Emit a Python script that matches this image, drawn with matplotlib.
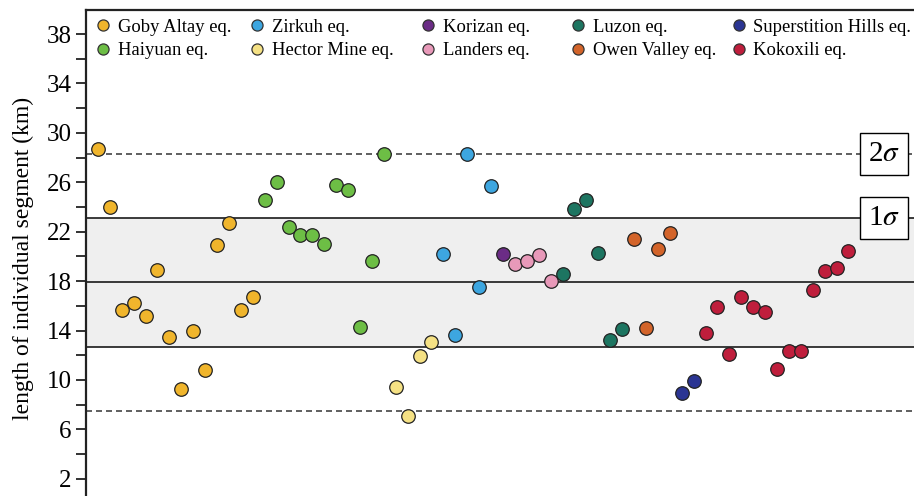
import matplotlib
matplotlib.use("Agg")
import matplotlib.pyplot as plt
from matplotlib.lines import Line2D
from matplotlib.legend import Legend
import numpy as np

plt.rcParams["font.family"] = ["Liberation Serif", "DejaVu Serif"]
plt.rcParams["mathtext.fontset"] = "stix"

# Segment lengths (km) for each earthquake, in plotting order
earthquakes = ["Goby Altay eq.", "Haiyuan eq.", "Hector Mine eq.", "Zirkuh eq.",
               "Korizan eq.", "Landers eq.", "Luzon eq.", "Owen Valley eq.",
               "Superstition Hills eq.", "Kokoxili eq."]
goby_altay = [28.7, 24.0, 15.7, 16.2, 15.2, 18.9, 13.5, 9.3, 14.0, 10.8, 20.9, 22.7, 15.7, 16.7]
haiyuan = [24.6, 26.0, 22.4, 21.7, 21.7, 21.0, 25.8, 25.4, 14.3, 19.6, 28.3]
hector_mine = [9.4, 7.1, 11.9, 13.1]
zirkuh = [20.2, 13.6, 28.3, 17.5, 25.7]
korizan = [20.2]
landers = [19.4, 19.6, 20.1, 18.0]
luzon = [18.6, 23.8, 24.6, 20.3, 13.2, 14.1]
owen_valley = [21.4, 14.2, 20.6, 21.9]
superstition_hills = [8.9, 9.9]
kokoxili = [13.8, 15.9, 12.1, 16.7, 15.9, 15.5, 10.9, 12.3, 12.3, 17.3, 18.8, 19.1, 20.4]

series = [goby_altay, haiyuan, hector_mine, zirkuh, korizan, landers,
          luzon, owen_valley, superstition_hills, kokoxili]
colors = ["#F0B52C", "#6DBE45", "#F5E184", "#3DA6E0", "#6B2C86",
          "#E899B9", "#1D7561", "#D3642A", "#2B3593", "#BF1E3C"]

# Legend columns (top entry, bottom entry)
legend_columns = [("Goby Altay eq.", "Haiyuan eq."),
                  ("Zirkuh eq.", "Hector Mine eq."),
                  ("Korizan eq.", "Landers eq."),
                  ("Luzon eq.", "Owen Valley eq."),
                  ("Superstition Hills eq.", "Kokoxili eq.")]

mean_len = 17.9
sigma = 5.2

W, H = 914, 496
ax_left, ax_top = 86, 10
fig = plt.figure(figsize=(W / 100, H / 100), dpi=100)
ax = fig.add_axes([ax_left / W, 0.0, 1 - ax_left / W, 1 - ax_top / H])

ax.axhspan(mean_len - sigma, mean_len + sigma, color="#efefef", zorder=0, lw=0)
for k in (0, 1, -1):
    ax.axhline(mean_len + k * sigma, color="#1a1a1a", lw=1.2, zorder=1)
for k in (2, -2):
    ax.axhline(mean_len + k * sigma, color="#444444", lw=1.2, ls="--",
               dashes=(3.6, 2.4), zorder=1)

start = 0
for name, vals, col in zip(earthquakes, series, colors):
    xs = np.arange(start, start + len(vals))
    ax.scatter(xs, vals, s=95, color=col, edgecolor="#222222", linewidth=0.9, zorder=3)
    start += len(vals)

box = dict(boxstyle="square,pad=0.28", fc="white", ec="black", lw=1.0)
ax.text(66, mean_len + 2 * sigma, r"2$\sigma$", ha="center", va="center",
        fontsize=21, bbox=box, zorder=4)
ax.text(66, mean_len + sigma, r"1$\sigma$", ha="center", va="center",
        fontsize=21, bbox=box, zorder=4)

# Legend: five columns placed individually
color_of = dict(zip(earthquakes, colors))
leg_fs = 13.4
handle_len = 0.8
half_handle_px = handle_len * leg_fs * 100 / 72 / 2
col_marker_px = [102.7, 257.0, 428.0, 578.0, 738.5]
ax_w_px = W - ax_left
ax_h_px = H - ax_top
for (top_name, bot_name), mx in zip(legend_columns, col_marker_px):
    names = (top_name, bot_name)
    handles = [Line2D([], [], marker="o", ls="", markersize=8,
                      markerfacecolor=color_of[n], markeredgecolor="#333333",
                      markeredgewidth=0.9) for n in names]
    leg = Legend(ax, handles, names, loc="upper left",
                 bbox_to_anchor=((mx - ax_left - half_handle_px) / ax_w_px,
                                 1 - 8.5 / ax_h_px),
                 frameon=False, fontsize=leg_fs, handletextpad=0.4,
                 handlelength=handle_len, labelspacing=0.36,
                 borderpad=0.0, borderaxespad=0.0)
    ax.add_artist(leg)

ax.set_xlim(-1, 68.5)
ax.set_ylim(0.6, 39.95)
ax.set_yticks(np.arange(2, 39, 4))
ax.set_yticks(np.arange(4, 37, 4), minor=True)
ax.set_xticks([])
ax.tick_params(axis="y", which="both", direction="out", length=7.5, width=1.3,
               labelsize=18, pad=3, color="#222222")
for s in ("right", "bottom"):
    ax.spines[s].set_visible(False)
for s in ("left", "top"):
    ax.spines[s].set_linewidth(1.6)
    ax.spines[s].set_color("#222222")
ax.set_ylabel("length of individual segment (km)", fontsize=17)
ax.yaxis.set_label_coords((34 - ax_left) / ax_w_px, (H - 258) / ax_h_px)

fig.savefig("out.png", dpi=100)
